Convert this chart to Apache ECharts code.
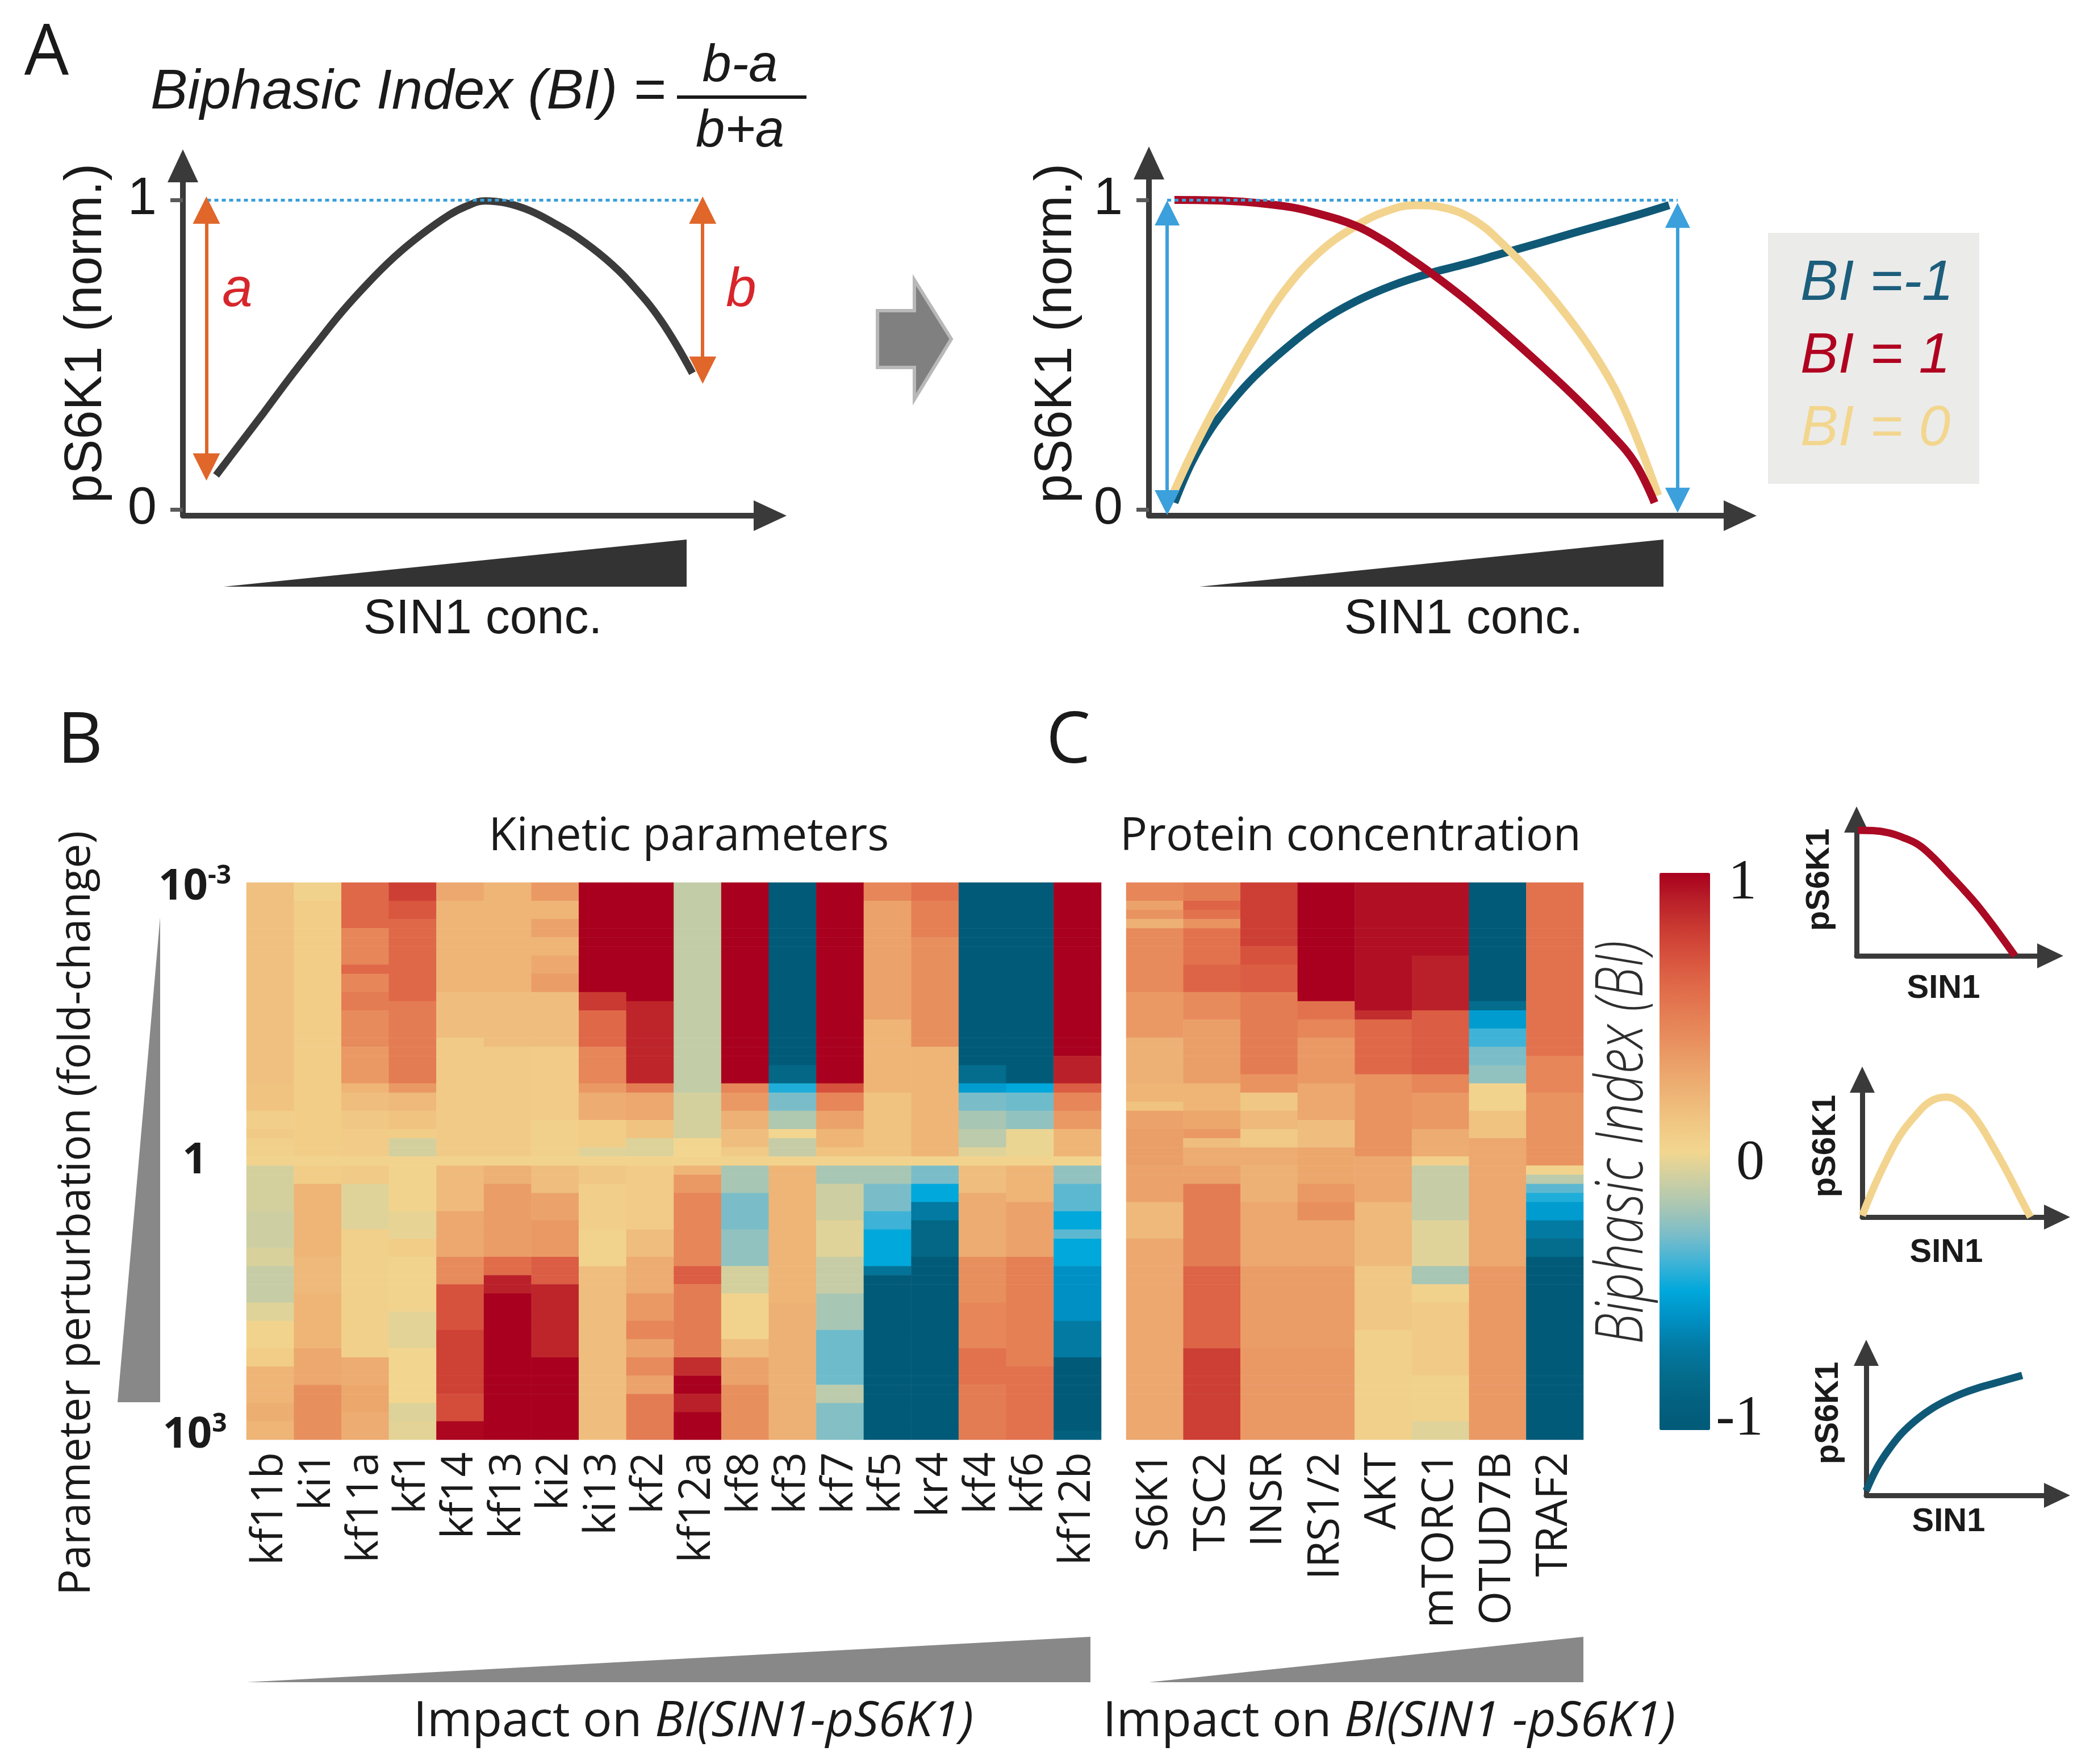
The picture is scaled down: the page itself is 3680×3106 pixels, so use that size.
<!DOCTYPE html>
<html>
<head>
<meta charset="utf-8">
<script src="https://cdn.jsdelivr.net/npm/echarts@6/dist/echarts.min.js"></script>
<style>
  html, body { margin: 0; padding: 0; background: #ffffff; }
  #chart { width: 3680px; height: 3106px; }
</style>
</head>
<body>
<div id="chart"></div>
<script>
  "use strict";

  // ---- data ---------------------------------------------------------------

  // Panel A, sketch curves. x = fraction of the x axis (origin -> arrow tip),
  // y = pS6K1 (norm.)
  var biphasicCurve = [[0.055, 0.11], [0.09, 0.2], [0.133, 0.31], [0.175, 0.42], [0.219, 0.53],
    [0.262, 0.635], [0.306, 0.73], [0.35, 0.815], [0.393, 0.885], [0.44, 0.95], [0.47, 0.98],
    [0.5, 0.997], [0.535, 0.99], [0.575, 0.965], [0.615, 0.925], [0.653, 0.88], [0.7, 0.81],
    [0.74, 0.735], [0.792, 0.61], [0.844, 0.44]];
  var curveBIneg = [[0.042, 0.022], [0.07, 0.15], [0.102, 0.26], [0.135, 0.345], [0.174, 0.43],
    [0.225, 0.52], [0.281, 0.605], [0.34, 0.672], [0.401, 0.724], [0.46, 0.762], [0.521, 0.793],
    [0.58, 0.826], [0.641, 0.86], [0.7, 0.894], [0.76, 0.927], [0.81, 0.955], [0.856, 0.983]];
  var curveBIzero = [[0.036, 0.034], [0.08, 0.22], [0.126, 0.391], [0.175, 0.56], [0.222, 0.704],
    [0.28, 0.83], [0.341, 0.916], [0.39, 0.963], [0.437, 0.983], [0.485, 0.975], [0.535, 0.935],
    [0.581, 0.86], [0.64, 0.74], [0.701, 0.592], [0.74, 0.48], [0.772, 0.369], [0.805, 0.22], [0.838, 0.045]];
  var curveBIpos = [[0.042, 1.0], [0.13, 0.997], [0.222, 0.98], [0.28, 0.955], [0.341, 0.916],
    [0.385, 0.87], [0.425, 0.818], [0.467, 0.76], [0.52, 0.68], [0.58, 0.58], [0.64, 0.475],
    [0.7, 0.365], [0.76, 0.245], [0.8, 0.15], [0.832, 0.022]];

  // a / b double arrows and the dotted "max" line (data coords of each panel)
  var abArrows = [[[0.039, 0.967], [0.039, 0.137]], [[0.861, 0.967], [0.861, 0.45]]];
  var leftMaxLine = [[0.04, 1], [0.861, 1]];
  var rangeArrows = [[[0.03, 0.958], [0.03, 0.022]], [[0.87, 0.95], [0.87, 0.03]]];
  var rightMaxLine = [[0.03, 1], [0.87, 1]];

  // small legend sketches on the right
  var iconDecline = [[0.007, 0.84], [0.08, 0.838], [0.153, 0.824], [0.225, 0.792], [0.299, 0.744],
    [0.37, 0.66], [0.445, 0.551], [0.52, 0.44], [0.591, 0.327], [0.679, 0.167], [0.766, 0.0]];
  var iconBell = [[0, 0.01], [0.05, 0.18], [0.11, 0.359], [0.18, 0.54], [0.257, 0.676], [0.33, 0.77],
    [0.404, 0.797], [0.48, 0.75], [0.551, 0.644], [0.62, 0.49], [0.699, 0.295], [0.76, 0.13], [0.809, 0.0]];
  var iconRise = [[0, 0.03], [0.05, 0.17], [0.106, 0.286], [0.175, 0.4], [0.252, 0.492], [0.325, 0.56],
    [0.399, 0.613], [0.47, 0.654], [0.545, 0.689], [0.655, 0.73], [0.765, 0.771]];

  // Panels B / C heatmaps
  var kineticParams = ["kf11b", "ki1", "kf11a", "kf1", "kf14", "kf13", "ki2", "ki13", "kf2",
    "kf12a", "kf8", "kf3", "kf7", "kf5", "kr4", "kf4", "kf6", "kf12b"];
  var proteins = ["S6K1", "TSC2", "INSR", "IRS1/2", "AKT", "mTORC1", "OTUD7B", "TRAF2"];
  var rowCount = 61;              // 10^-3 ... 1 ... 10^3
  var rowTicks = {0: ["10", "-3"], 30: ["1", ""], 60: ["10", "3"]};

  // BI per column, top row (10^-3) to bottom row (10^3), as [value, rows] runs
  var kineticBI = [
    [[0.14,22],[0.12,3],[0.05,2],[0.08,1],[0.04,2],[0.02,1],[-0.08,5],[-0.1,4],[-0.07,2],[-0.12,4],[-0.05,2],[0.02,3],[0.06,2],[0.2,4],[0.24,2],[0.2,2]],   // kf11b
    [[0.03,2],[0.06,28],[0.02,1],[0.06,2],[0.2,8],[0.18,4],[0.2,6],[0.27,4],[0.4,6]],                                                                    // ki1
    [[0.6,5],[0.45,4],[0.6,1],[0.45,2],[0.5,2],[0.42,4],[0.35,4],[0.2,1],[0.15,2],[0.1,2],[0.07,3],[0.02,1],[0.08,2],[-0.05,5],[0.04,14],[0.25,3],[0.28,3],[0.25,3]], // kf11a
    [[0.78,2],[0.68,2],[0.6,9],[0.5,9],[0.35,1],[0.18,2],[0.12,2],[0.06,1],[-0.08,2],[0.02,1],[0.02,5],[-0.03,3],[0.06,2],[0.02,6],[-0.04,4],[0,6],[-0.06,2],[-0.04,2]], // kf1
    [[0.27,2],[0.2,10],[0.15,5],[0.08,13],[0.02,1],[0.17,5],[0.27,5],[0.42,3],[0.7,5],[0.77,7],[0.72,3],[0.98,2]],                                      // kf14
    [[0.2,12],[0.15,6],[0.08,12],[0.02,1],[0.22,2],[0.33,8],[0.58,2],[0.9,2],[1,16]],                                                                   // kf13
    [[0.35,2],[0.2,2],[0.3,2],[0.2,2],[0.27,2],[0.33,2],[0.15,6],[0.07,8],[0.04,4],[0.02,1],[0.15,3],[0.3,3],[0.35,4],[0.65,3],[0.88,8],[1,9]],         // ki2
    [[1,12],[0.8,2],[0.6,4],[0.45,4],[0.35,1],[0.25,3],[0.06,3],[-0.05,1],[0.02,1],[0.1,2],[0.05,5],[0.02,4],[0.15,19]],                               // ki13
    [[1,13],[0.88,9],[0.5,1],[0.27,3],[0.12,2],[-0.06,2],[0.02,1],[0.07,7],[0.15,3],[0.25,4],[0.35,3],[0.45,2],[0.3,2],[0.42,2],[0.3,2],[0.5,5]],     // kf2
    [[-0.13,23],[-0.08,5],[0,2],[0.02,1],[0.2,1],[0.35,2],[0.45,8],[0.65,2],[0.5,8],[0.85,2],[1,2],[0.9,2],[1,3]],                                     // kf12a
    [[1,22],[0.45,1],[0.35,2],[0.22,2],[0.15,2],[0.08,1],[0.02,1],[-0.2,3],[-0.3,4],[-0.25,4],[-0.08,3],[0.02,5],[0.15,2],[0.3,3],[0.4,6]],           // kf8
    [[-1,20],[-0.85,2],[-0.45,1],[-0.3,2],[-0.18,2],[0,1],[-0.12,2],[0.02,1],[0.2,15],[0.22,15]],                                                       // kf3
    [[1,22],[0.7,1],[0.45,2],[0.3,2],[0.2,2],[0.12,1],[0.02,1],[-0.2,2],[-0.1,4],[-0.05,4],[-0.12,4],[-0.2,4],[-0.32,6],[-0.15,2],[-0.28,4]],        // kf7
    [[0.45,2],[0.3,13],[0.2,8],[0.12,7],[0.02,1],[-0.2,2],[-0.3,3],[-0.4,2],[-0.5,4],[-0.75,1],[-1,18]],                                                // kf5
    [[0.55,2],[0.48,4],[0.4,12],[0.2,12],[0.02,1],[-0.3,2],[-0.5,2],[-0.7,2],[-0.85,4],[-1,20]],                                                       // kr4
    [[-1,20],[-0.8,2],[-0.55,1],[-0.3,2],[-0.2,2],[-0.15,2],[-0.05,1],[0.02,1],[0.15,3],[0.25,7],[0.4,5],[0.45,5],[0.55,4],[0.5,6]],                  // kf4
    [[-1,22],[-0.5,1],[-0.32,2],[-0.25,2],[-0.02,3],[0.02,1],[0.2,4],[0.3,6],[0.48,12],[0.55,8]],                                                       // kf6
    [[1,19],[0.9,3],[0.65,1],[0.45,2],[0.35,2],[0.2,3],[0.02,1],[-0.25,2],[-0.35,3],[-0.5,2],[-0.35,1],[-0.5,3],[-0.6,6],[-0.7,4],[-1,8],[-0.9,1]]     // kf12b
  ];

  var proteinBI = [
    [[0.45,2],[0.3,1],[0.38,1],[0.22,1],[0.42,7],[0.35,5],[0.22,5],[0.2,2],[0.12,1],[0.3,2],[0.32,4],[0.3,4],[0.18,4],[0.27,22]],                    // S6K1
    [[0.5,2],[0.62,1],[0.55,1],[0.38,1],[0.55,4],[0.62,3],[0.42,3],[0.32,7],[0.2,3],[0.28,2],[0.35,1],[0.15,1],[0.25,2],[0.3,2],[0.5,9],[0.62,9],[0.78,10]], // TSC2
    [[0.78,7],[0.7,2],[0.65,3],[0.5,9],[0.38,2],[0.1,2],[0.18,2],[0.08,2],[0.25,2],[0.22,4],[0.27,7],[0.33,9],[0.35,10]],                              // INSR
    [[1,13],[0.55,2],[0.45,2],[0.35,5],[0.27,4],[0.15,3],[0.28,2],[0.28,2],[0.35,2],[0.4,2],[0.27,5],[0.33,9],[0.35,10]],                              // IRS1/2
    [[0.95,14],[0.85,1],[0.6,6],[0.38,9],[0.27,1],[0.27,4],[0.18,7],[0.1,7],[0.04,12]],                                                                 // AKT
    [[0.95,8],[0.9,6],[0.65,7],[0.45,2],[0.35,4],[0.25,3],[0.05,1],[-0.12,6],[-0.05,5],[-0.2,2],[0.03,2],[0.08,8],[0.03,5],[-0.05,2]],                // mTORC1
    [[-1,13],[-0.8,1],[-0.55,2],[-0.4,2],[-0.3,2],[-0.25,2],[0.02,3],[0.12,3],[0.27,14],[0.35,19]],                                                     // OTUD7B
    [[0.55,19],[0.45,4],[0.38,8],[0.02,1],[-0.15,1],[-0.35,1],[-0.45,1],[-0.55,2],[-0.7,2],[-0.8,2],[-1,20]]                                            // TRAF2
  ];

  // diverging palette, BI -1 ... 1
  var biColors = ["#015a78", "#03617f", "#046c8d", "#037aa2", "#0090c4", "#00a8db", "#3eb3d7",
    "#7abdc9", "#a8c6b4", "#cdcfa2", "#f2d68f", "#f0c784", "#eeb577", "#eba36b", "#e88f5e",
    "#e47c53", "#df6848", "#d7523d", "#ca3a32", "#ba2029", "#a8001e"];

  // ---- helpers ------------------------------------------------------------

  var INK = "#1a1a1a";
  var AXIS = "#3a3a3a";
  var SANS = "'Liberation Sans', Arial, sans-serif";
  var OPEN = "'Open Sans', 'Noto Sans', sans-serif";

  var grids = [], xAxes = [], yAxes = [], series = [], graphics = [];

  function expandRuns(runs) {
    var out = [];
    runs.forEach(function(r) {
      for (var i = 0; i < r[1]; i++) { out.push(r[0]); }
    });
    if (out.length !== rowCount) { console.warn("column has " + out.length + " rows"); }
    return out;
  }

  function heatData(columns) {
    var data = [];
    columns.forEach(function(runs, c) {
      expandRuns(runs).forEach(function(v, r) { data.push([c, r, v]); });
    });
    return data;
  }

  // hand-drawn style axes: origin (ox, oy), arrow tips, y0/y1 = pixel rows of 0 and 1
  function sketchAxes(o) {
    var h = o.arrow[1] / 2;
    var lenX = o.tipX - o.ox, lenY = o.oy - o.tipY;
    var unit = o.y0 - o.y1;
    var line = {
      show: true, onZero: false, symbol: ["none", "triangle"], symbolSize: o.arrow,
      lineStyle: {color: AXIS, width: o.lw}
    };
    grids.push({left: o.ox, top: o.tipY + h, width: lenX - h, height: lenY - h});
    var gi = grids.length - 1;
    xAxes.push({
      gridIndex: gi, type: "value", min: 0, max: (lenX - h) / lenX,
      axisLine: line, axisTick: {show: false}, axisLabel: {show: false}, splitLine: {show: false}
    });
    yAxes.push({
      gridIndex: gi, type: "value", min: -(o.oy - o.y0) / unit, max: (o.y0 - o.tipY - h) / unit,
      axisLine: line, splitLine: {show: false},
      axisTick: o.ticks ? {show: true, customValues: [0, 1], length: 22, lineStyle: {color: "#5a5a5a", width: 7}} : {show: false},
      axisLabel: o.ticks ? {show: true, customValues: [0, 1], margin: 46, fontSize: 92, color: INK, fontFamily: SANS} : {show: false}
    });
    return gi;
  }

  function curve(gi, data, color, width) {
    series.push({
      type: "line", xAxisIndex: gi, yAxisIndex: gi, data: data, smooth: 0.4,
      symbol: "none", silent: true, lineStyle: {color: color, width: width, cap: "butt"}
    });
  }

  function marks(gi, lines, color, width, symbol, size, type) {
    series.push({
      type: "line", xAxisIndex: gi, yAxisIndex: gi, data: [], silent: true,
      markLine: {
        silent: true, animation: false, symbol: symbol, symbolSize: size,
        label: {show: false}, emphasis: {disabled: true},
        lineStyle: {color: color, width: width, type: type || "solid", opacity: 1},
        data: lines.map(function(l) { return [{coord: l[0]}, {coord: l[1]}]; })
      }
    });
  }

  function text(x, y, str, size, opts) {
    opts = opts || {};
    graphics.push({
      type: "text", x: x, y: y, rotation: opts.rotation || 0, silent: true,
      scaleX: opts.scaleX || 1, z: 10,
      style: {
        text: str, fontSize: size, fontFamily: opts.family || SANS,
        fontStyle: opts.italic ? "italic" : "normal", fontWeight: opts.weight || "normal",
        fill: opts.color || INK, rich: opts.rich,
        align: opts.align || "center", textAlign: opts.align || "center",
        verticalAlign: "middle", textVerticalAlign: "middle"
      }
    });
  }

  function poly(points, fill, stroke, lw) {
    graphics.push({
      type: "polygon", silent: true, z: 5, shape: {points: points},
      style: {fill: fill, stroke: stroke || null, lineWidth: lw || 0}
    });
  }

  // ---- panel A ------------------------------------------------------------

  var gLeft = sketchAxes({ox: 322, oy: 908, tipX: 1385, tipY: 263, y0: 897, y1: 352, arrow: [54, 58], lw: 10, ticks: true});
  curve(gLeft, biphasicCurve, "#3b3b3b", 13);
  marks(gLeft, [leftMaxLine], "#3a9fd8", 5, ["none", "none"], 0, [7, 6]);
  marks(gLeft, abArrows, "#e0662a", 6, ["triangle", "triangle"], 48);

  var gRight = sketchAxes({ox: 2023, oy: 908, tipX: 3093, tipY: 258, y0: 897, y1: 352, arrow: [54, 58], lw: 10, ticks: true});
  curve(gRight, curveBIneg, "#0f5977", 14);
  curve(gRight, curveBIzero, "#f3d48e", 14);
  curve(gRight, curveBIpos, "#ab0a24", 14);
  marks(gRight, [rightMaxLine], "#3a9fd8", 5, ["none", "none"], 0, [7, 6]);
  marks(gRight, rangeArrows, "#3ba0db", 6, ["triangle", "triangle"], 44);

  text(82, 96, "A", 124, {family: OPEN});
  text(265, 164, "Biphasic Index (BI) =", 98, {italic: true, align: "left"});
  text(1303, 117, "b-a", 92, {italic: true});
  text(1303, 232, "b+a", 92, {italic: true});
  graphics.push({type: "rect", silent: true, shape: {x: 1192, y: 168, width: 228, height: 6}, style: {fill: INK}});

  text(153, 587, "pS6K1 (norm.)", 92, {rotation: Math.PI / 2});
  text(1861, 587, "pS6K1 (norm.)", 92, {rotation: Math.PI / 2});
  text(850, 1091, "SIN1 conc.", 86);
  text(2577, 1091, "SIN1 conc.", 86);
  text(418, 512, "a", 96, {italic: true, color: "#d7262b"});
  text(1305, 512, "b", 96, {italic: true, color: "#d7262b"});

  poly([[394, 1033], [1209, 950], [1209, 1033]], "#333333");
  poly([[2112, 1033], [2929, 950], [2929, 1033]], "#333333");
  poly([[1545, 547], [1610, 547], [1610, 493], [1675, 597], [1610, 703], [1610, 647], [1545, 647]], "#808080", "#b8b8b8", 6);

  graphics.push({type: "rect", silent: true, z: 4, shape: {x: 3113, y: 410, width: 372, height: 442}, style: {fill: "#ebebea"}});
  text(3170, 500, "BI =-1", 100, {italic: true, align: "left", color: "#1c5e7c"});
  text(3170, 628, "BI = 1", 100, {italic: true, align: "left", color: "#b00020"});
  text(3170, 756, "BI = 0", 100, {italic: true, align: "left", color: "#f3d68e"});

  // ---- legend sketches ----------------------------------------------------

  var gI1 = sketchAxes({ox: 3269, oy: 1683, tipX: 3633, tipY: 1420, y0: 1683, y1: 1420, arrow: [44, 46], lw: 9});
  curve(gI1, iconDecline, "#ab0a24", 13);
  var gI2 = sketchAxes({ox: 3279, oy: 2143, tipX: 3645, tipY: 1878, y0: 2143, y1: 1878, arrow: [44, 46], lw: 9});
  curve(gI2, iconBell, "#f3d48e", 13);
  var gI3 = sketchAxes({ox: 3286, oy: 2633, tipX: 3645, tipY: 2359, y0: 2633, y1: 2359, arrow: [44, 46], lw: 9});
  curve(gI3, iconRise, "#0f5977", 13);

  [[3204, 1549, 3422, 1741], [3215, 2018, 3427, 2206], [3220, 2488, 3431, 2680]].forEach(function(p) {
    text(p[0], p[1], "pS6K1", 58, {rotation: Math.PI / 2, weight: "bold"});
    text(p[2], p[3], "SIN1", 58, {weight: "bold"});
  });

  // ---- panels B and C -----------------------------------------------------

  var rows = [];
  for (var r = 0; r < rowCount; r++) { rows.push(String(r)); }

  function heatAxes(left, width, cats, withRowLabels) {
    grids.push({left: left, top: 1554, width: width, height: 981});
    var gi = grids.length - 1;
    xAxes.push({
      gridIndex: gi, type: "category", data: cats,
      axisLine: {show: false}, axisTick: {show: false}, splitLine: {show: false},
      axisLabel: {rotate: 90, interval: 0, margin: 22, fontSize: 76, fontFamily: OPEN, color: INK}
    });
    yAxes.push({
      gridIndex: gi, type: "category", data: rows, inverse: true,
      axisLine: {show: false}, axisTick: {show: false}, splitLine: {show: false},
      axisLabel: withRowLabels ? {
        show: true, interval: 0, margin: 91, align: "center",
        formatter: function(v, idx) {
          var t = rowTicks[idx];
          if (!t) { return ""; }
          return t[1] ? "{b|" + t[0] + "}{s|" + t[1] + "}" : "{b|" + t[0] + "}";
        },
        rich: {
          b: {fontSize: 76, fontWeight: "bold", fontFamily: OPEN, color: INK, lineHeight: 84},
          s: {fontSize: 46, fontWeight: "bold", fontFamily: OPEN, color: INK, verticalAlign: "top", lineHeight: 84}
        }
      } : {show: false}
    });
    return gi;
  }

  var gB = heatAxes(434, 1505, kineticParams, true);
  var gC = heatAxes(1983, 805, proteins, false);

  series.push({type: "heatmap", xAxisIndex: gB, yAxisIndex: gB, data: heatData(kineticBI), silent: true, itemStyle: {borderWidth: 0}});
  series.push({type: "heatmap", xAxisIndex: gC, yAxisIndex: gC, data: heatData(proteinBI), silent: true, itemStyle: {borderWidth: 0}});
  var heatIdx = [series.length - 2, series.length - 1];

  text(141, 1308, "B", 124, {family: OPEN});
  text(1881, 1308, "C", 124, {family: OPEN});
  text(1213, 1474, "Kinetic parameters", 80, {family: OPEN});
  text(2378, 1474, "Protein concentration", 80, {family: OPEN});
  text(136, 2136, "Parameter perturbation (fold-change)", 77, {family: OPEN, rotation: Math.PI / 2});

  var impactRich = {
    n: {fontSize: 86, fontFamily: OPEN, color: INK},
    i: {fontSize: 86, fontFamily: OPEN, fontStyle: "italic", color: INK}
  };
  text(1221, 3032, "{n|Impact on }{i|BI(SIN1-pS6K1)}", 86, {family: OPEN, rich: impactRich});
  text(2446, 3032, "{n|Impact on }{i|BI(SIN1 -pS6K1)}", 86, {family: OPEN, rich: impactRich});

  poly([[282, 1615], [282, 2469], [207, 2469]], "#888888");
  poly([[434, 2962], [1920, 2882], [1920, 2962]], "#888888");
  poly([[2023, 2962], [2788, 2882], [2788, 2962]], "#888888");

  // colour bar
  text(3068, 1556, "1", 100, {family: "'Liberation Serif', serif"});
  text(3082, 2049, "0", 100, {family: "'Liberation Serif', serif"});
  text(3063, 2500, "-1", 100, {family: "'Liberation Serif', serif"});
  text(2859, 2012, "Biphasic Index (BI)", 116, {family: OPEN, italic: true, weight: 300, color: "#2e2e2e",
    rotation: Math.PI / 2, scaleX: 0.78});

  // ---- render -------------------------------------------------------------

  var chart = echarts.init(document.getElementById("chart"), null, {width: 3680, height: 3106});
  chart.setOption({
    backgroundColor: "#ffffff",
    animation: false,
    grid: grids,
    xAxis: xAxes,
    yAxis: yAxes,
    visualMap: {
      type: "continuous", min: -1, max: 1, seriesIndex: heatIdx,
      orient: "vertical", left: 2922, top: 1537, itemWidth: 89, itemHeight: 981,
      padding: 0, calculable: false, text: null, show: true,
      inRange: {color: biColors}
    },
    series: series,
    graphic: {elements: graphics}
  });
</script>
</body>
</html>
